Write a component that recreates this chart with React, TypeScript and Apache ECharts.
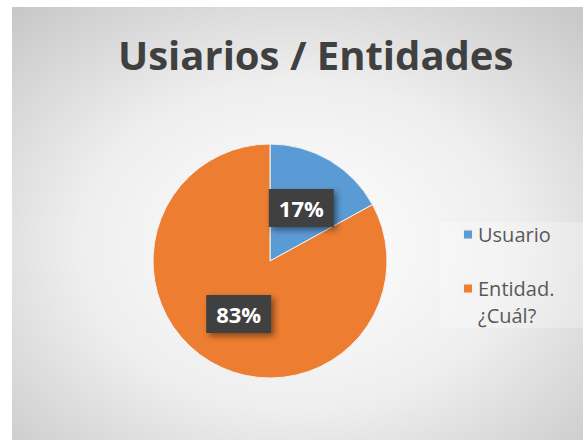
import React, { useEffect, useRef } from "react";
import * as echarts from "echarts";

const titleText = "Usiarios / Entidades";
const categories = ["Usuario", "Entidad.\n¿Cuál?"];
const values = [17, 83];
const colors = ["#5B9BD5", "#ED7D31"];

export default function App() {
  const ref = useRef<HTMLDivElement>(null);
  useEffect(() => {
    document.body.style.margin = "0";
    const chart = echarts.init(ref.current!, null, { renderer: "svg" });
    const font = "'Open Sans', 'DejaVu Sans', sans-serif";
    chart.setOption({
      animation: false,
      textStyle: { fontFamily: font },
      graphic: [
        {
          type: "rect",
          silent: true,
          z: -10,
          shape: { x: 12, y: 7, width: 571, height: 433 },
          style: {
            fill: {
              type: "radial",
              x: 0.5,
              y: 0.55,
              r: 0.85,
              colorStops: [
                { offset: 0, color: "#ffffff" },
                { offset: 0.45, color: "#eeeeee" },
                { offset: 1, color: "#bbbbbb" },
              ],
            },
          },
        },
        {
          type: "rect",
          silent: true,
          z: -9,
          shape: { x: 440, y: 222, width: 143, height: 106 },
          style: { fill: "rgba(255,255,255,0.25)" },
        },
      ],
      title: {
        text: titleText,
        left: 118,
        top: 34,
        padding: 0,
        textStyle: {
          fontFamily: font,
          fontSize: 40,
          fontWeight: "bold",
          color: "#404040",
        },
      },
      legend: {
        orient: "vertical",
        left: 457,
        top: 216,
        itemWidth: 10,
        itemHeight: 10,
        itemGap: 0,
        icon: "rect",
        formatter: (name: string) => (name.indexOf("\n") >= 0 ? " \n" + name : name),
        textStyle: { fontFamily: font, fontSize: 20, color: "#595959", lineHeight: 27 },
        data: categories,
      },
      series: [
        {
          type: "pie",
          center: [270, 261],
          radius: 117,
          startAngle: 90,
          clockwise: true,
          percentPrecision: 0,
          itemStyle: { borderColor: "#f2f2f2", borderWidth: 1 },
          label: {
            show: true,
            position: "inside",
            formatter: "{d}%",
            color: "#ffffff",
            fontFamily: font,
            fontSize: 22,
            fontWeight: "bold",
            backgroundColor: "#404040",
            padding: [8, 10, 8, 10],
            shadowColor: "rgba(0,0,0,0.45)",
            shadowBlur: 6,
            shadowOffsetX: 3,
            shadowOffsetY: 3,
          },
          labelLine: { show: false },
          emphasis: { disabled: true },
          data: categories.map((n, i) => ({
            name: n,
            value: values[i],
            itemStyle: { color: colors[i] },
          })),
        },
      ],
    });
    return () => chart.dispose();
  }, []);
  return (
    <div
      ref={ref}
      style={{ position: "absolute", left: 0, top: 0, width: 583, height: 440 }}
    />
  );
}
